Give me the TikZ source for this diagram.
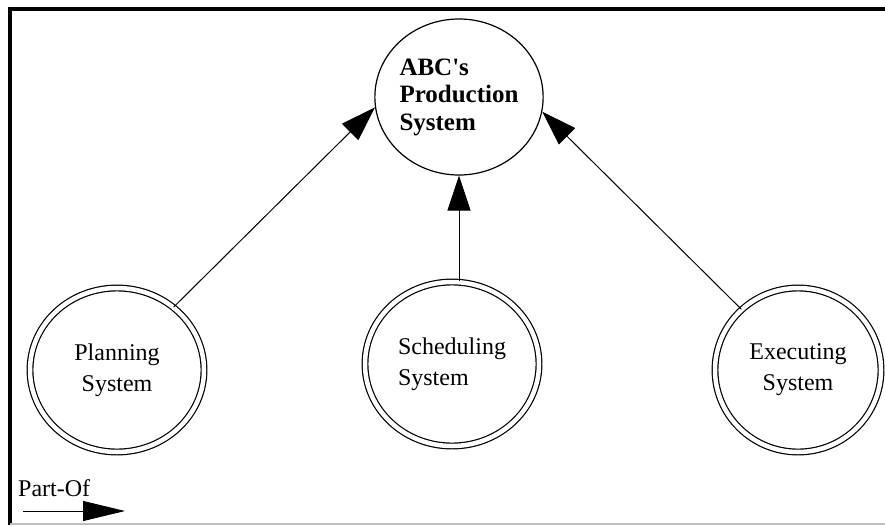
\documentclass[tikz,border=0pt]{standalone}
\usepackage{fontspec}
\setmainfont{Liberation Serif}
% same family without TeX ligature mapping, so ' stays a straight apostrophe
\newfontfamily\plainserif{Liberation Serif}
\usetikzlibrary{arrows.meta,shapes.geometric}
\begin{document}
\begin{tikzpicture}[x=1pt,y=-1pt,
  sysnode/.style={ellipse,draw,double,line width=1.2pt,double distance=4.5pt,
    inner sep=0pt,font=\fontsize{24}{31}\selectfont},
  topnode/.style={ellipse,draw,line width=1.2pt,inner sep=0pt,
    font=\plainserif\fontsize{25}{27.5}\selectfont\bfseries,align=left},
  partof/.style={line width=1pt,-{Triangle[length=35pt,width=23pt]}}
]
\useasboundingbox (0,0) rectangle (885,525);
\fill[white] (0,0) rectangle (885,525);
% frame
\draw[black,line width=4pt] (8,9) -- (885,9);
\draw[black,line width=4pt] (10,7) -- (10,525);
\draw[black!25,line width=1.5pt] (10,524) -- (885,524);

% nodes
\node[topnode,minimum width=168pt,minimum height=156pt] (abc) at (459,97)
  {ABC's\\Production\\System};
\node[sysnode,align=center,minimum width=174pt,minimum height=164pt] (plan) at (117,370)
  {Planning\\System};
\node[sysnode,align=left,minimum width=174pt,minimum height=164pt] (sched) at (452,364)
  {Scheduling\\System};
\node[sysnode,align=center,minimum width=166pt,minimum height=164pt] (exec) at (798,370)
  {Executing\\System};

% part-of connectors
\draw[partof] (plan.48) -- (abc.187.5);
\draw[partof] (abc.south |- sched.north) -- (abc.south);
\draw[partof] (exec.133) -- (abc.350);

% legend
\node[anchor=base west,inner sep=0pt,font=\fontsize{24}{28}\selectfont] (legtext) at (18,496) {Part-Of};
\coordinate (legA) at (23,511);
\coordinate (legB) at (125,511);
\draw[line width=1pt,-{Triangle[length=42pt,width=20pt]}] (legA) -- (legB);
\end{tikzpicture}
\end{document}
